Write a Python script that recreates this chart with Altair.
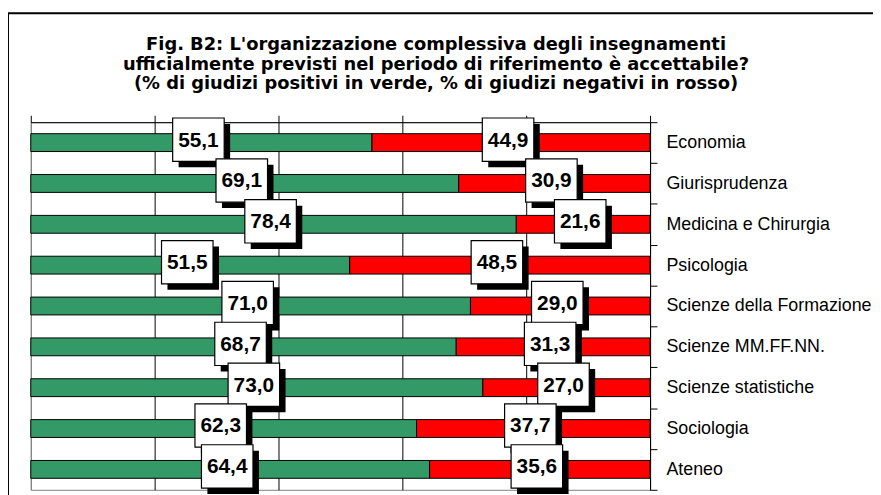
import altair as alt
import pandas as pd

categories = [
    "Economia",
    "Giurisprudenza",
    "Medicina e Chirurgia",
    "Psicologia",
    "Scienze della Formazione",
    "Scienze MM.FF.NN.",
    "Scienze statistiche",
    "Sociologia",
    "Ateneo",
]
positive = [55.1, 69.1, 78.4, 51.5, 71.0, 68.7, 73.0, 62.3, 64.4]
negative = [44.9, 30.9, 21.6, 48.5, 29.0, 31.3, 27.0, 37.7, 35.6]
title_lines = [
    "Fig. B2: L'organizzazione complessiva degli insegnamenti",
    "ufficialmente previsti nel periodo di riferimento è accettabile?",
    "(% di giudizi positivi in verde, % di giudizi negativi in rosso)",
]
x_ticks = [0, 20, 40, 60, 80, 100]

GREEN = "#339966"
RED = "#FF0000"
FONT = "Liberation Sans"
TITLE_FONT = "DejaVu Sans"


def fmt(v):
    return f"{v:.1f}".replace(".", ",")


rows = []
for c, p, n in zip(categories, positive, negative):
    rows.append(dict(cat=c, kind="pos", ord=0, val=p, mid=p / 2, label=fmt(p)))
    rows.append(dict(cat=c, kind="neg", ord=1, val=n, mid=p + n / 2, label=fmt(n)))
df = pd.DataFrame(rows)

W, H = 625, 371
PAD_L, PAD_T = 23, 113
PAD_R = 873 - PAD_L - W
PAD_B = 3

x_scale = alt.Scale(domain=[0, 100], nice=False, zero=True)
y_scale = alt.Scale(domain=categories, paddingInner=0, paddingOuter=0)

base = alt.Chart(df)
one = alt.Chart(pd.DataFrame({"a": [0]}))

frame = one.mark_rect(
    filled=False, stroke="black", strokeWidth=2
).encode(
    x=alt.value(-23), x2=alt.value(1000), y=alt.value(-110), y2=alt.value(600)
)

title = one.mark_text(
    text=title_lines, font=TITLE_FONT, fontSize=18, fontWeight="bold", color="black",
    align="center", baseline="alphabetic", lineHeight=20,
).encode(
    x=alt.value(409), y=alt.value(-73)
)

bars = base.mark_bar(size=18, stroke="black", strokeWidth=1).encode(
    x=alt.X(
        "val:Q",
        stack="zero",
        scale=x_scale,
        axis=alt.Axis(
            orient="top",
            values=x_ticks,
            labels=False,
            title=None,
            tickSize=7,
            tickColor="black",
            domainColor="black",
            grid=True,
            gridColor=alt.condition("datum.value == 0", alt.value("#808080"), alt.value("black")),
            gridWidth=1,
            gridOpacity=1,
        ),
    ),
    y=alt.Y(
        "cat:N",
        sort=categories,
        scale=y_scale,
        axis=alt.Axis(
            orient="right",
            title=None,
            labelFont=FONT,
            labelFontSize=18,
            labelColor="black",
            labelPadding=9,
            labelLimit=400,
            tickSize=7,
            tickColor="black",
            tickBand="extent",
            domainColor="black",
            grid=False,
        ),
    ),
    color=alt.Color(
        "kind:N",
        scale=alt.Scale(domain=["pos", "neg"], range=[GREEN, RED]),
        legend=None,
    ),
    order=alt.Order("ord:Q"),
)

box_shape = "M-1,-0.84H1V0.84H-1Z"

shadow = base.mark_point(
    shape=box_shape, size=52 * 52, filled=True, fill="black", stroke="black",
    strokeWidth=0, opacity=1, xOffset=3, yOffset=3,
).encode(
    x=alt.X("mid:Q", scale=x_scale),
    y=alt.Y("cat:N", sort=categories, scale=y_scale),
)

box = base.mark_point(
    shape=box_shape, size=52 * 52, filled=True, fill="white", stroke="black",
    strokeWidth=1.2, opacity=1, xOffset=-3, yOffset=-3,
).encode(
    x=alt.X("mid:Q", scale=x_scale),
    y=alt.Y("cat:N", sort=categories, scale=y_scale),
)

text = base.mark_text(
    font=FONT, fontSize=21, fontWeight="bold", color="black",
    align="center", baseline="middle", xOffset=-3, yOffset=-2,
).encode(
    x=alt.X("mid:Q", scale=x_scale),
    y=alt.Y("cat:N", sort=categories, scale=y_scale),
    text="label:N",
)

chart = (
    alt.layer(frame, title, bars, shadow, box, text)
    .properties(
        width=W,
        height=H,
        autosize=alt.AutoSizeParams(type="none"),
        padding={"left": PAD_L, "top": PAD_T, "right": PAD_R, "bottom": PAD_B},
    )
    .configure_view(stroke="#808080", strokeWidth=1)
)

chart.save("out.html", embed_options={"renderer": "svg", "actions": False})
